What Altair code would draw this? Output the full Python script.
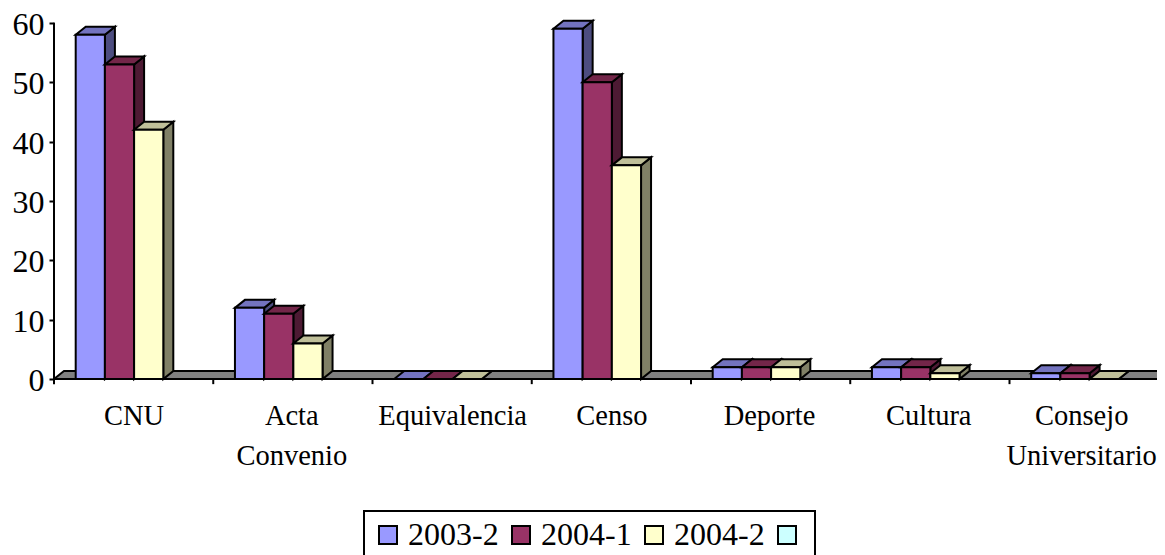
import json
import altair as alt
import pandas as pd

categories = ["CNU", ["Acta", "Convenio"], "Equivalencia", "Censo", "Deporte", "Cultura", ["Consejo", "Universitario"]]
label_positions = [0.5, 1.49, 2.5, 3.5, 4.49, 5.49, 6.45]
series_names = ["2003-2", "2004-1", "2004-2", "\u2009\u2009"]
values_2003_2 = [58, 12, 0, 59, 2, 2, 1]
values_2004_1 = [53, 11, 0, 50, 2, 2, 1]
values_2004_2 = [42, 6, 0, 36, 2, 1, 0]
front_colors = ["#9999FF", "#993366", "#FFFFCC", "#CCFFFF"]
top_colors = ["#7373BF", "#732649", "#BFBF99"]
side_colors = ["#4D4D80", "#4D1A33", "#808066"]
floor_color = "#808080"
y_ticks = [0, 10, 20, 30, 40, 50, 60]

FONT = "Liberation Serif"
PX_PER_CAT = 159.25
PLOT_W = 1103
PLOT_H = 377
Y_MIN, Y_MAX = -1.5, 62
PX_PER_UNIT = PLOT_H / (Y_MAX - Y_MIN)
X_END = PLOT_W / PX_PER_CAT
BAR_W = 29.2 / PX_PER_CAT
GAP = 21.7 / PX_PER_CAT
DX = 10 / PX_PER_CAT
DY = 8 / PX_PER_UNIT
TICK = 0.85

rows = []
poly = 0


def add(points, fill):
    global poly
    for px, py, py2 in points:
        rows.append({"poly": poly, "x": px, "y": py, "y2": py2, "fill": fill})
    poly += 1


# floor
add([(0, 0, 0), (DX, DY, 0), (7.2, DY, 0)], floor_color)

all_series = [values_2003_2, values_2004_1, values_2004_2]
for c in range(len(categories)):
    for s, vals in enumerate(all_series):
        v = vals[c]
        x0 = c + GAP + s * BAR_W
        x1 = x0 + BAR_W
        add([(x1, v, 0), (x1 + DX, v + DY, DY)], side_colors[s])
        add([(x0, v, v), (x0 + DX, v + DY, v), (x1, v + DY, v), (x1 + DX, v + DY, v + DY)], top_colors[s])
        add([(x0, v, 0), (x1, v, 0)], front_colors[s])

faces = pd.DataFrame(rows)

x_scale = alt.Scale(domain=[0, X_END], nice=False, zero=False)
y_scale = alt.Scale(domain=[Y_MIN, Y_MAX], nice=False, zero=False)

label_expr = "%s[floor(datum.value)]" % json.dumps(categories)

area = alt.Chart(faces).mark_area(
    clip=True, stroke="black", strokeWidth=2, strokeJoin="miter", opacity=1
).encode(
    x=alt.X(
        "x:Q",
        scale=x_scale,
        title=None,
        axis=alt.Axis(
            values=label_positions,
            labelExpr=label_expr,
            domain=False,
            ticks=False,
            grid=False,
            labelFont=FONT,
            labelFontSize=28.5,
            labelColor="black",
            labelPadding=13,
            labelLineHeight=40,
            labelBaseline="top",
            labelAlign="center",
            labelFlush=False,
            labelOverlap=False,
            labelBound=False,
        ),
    ),
    y=alt.Y(
        "y:Q",
        scale=y_scale,
        title=None,
        axis=alt.Axis(
            values=y_ticks,
            domain=False,
            grid=False,
            tickColor="black",
            tickWidth=2,
            tickSize=5,
            labelFont=FONT,
            labelFontSize=32,
            labelColor="black",
            labelPadding=5,
            labelOffset=1.5,
        ),
    ),
    y2="y2:Q",
    fill=alt.Fill("fill:N", scale=None),
    detail="poly:N",
)

rule_rows = [{"x": 0, "y": -TICK, "y2": 60}] + [
    {"x": i, "y": -TICK, "y2": 0} for i in range(1, len(categories))
]
rules = alt.Chart(pd.DataFrame(rule_rows)).mark_rule(color="black", strokeWidth=2).encode(
    x=alt.X("x:Q", scale=x_scale),
    y=alt.Y("y:Q", scale=y_scale),
    y2="y2:Q",
)

legend_layer = alt.Chart(pd.DataFrame({"series": series_names, "x": [0] * 4, "y": [0] * 4})).mark_rect(
    strokeWidth=0
).encode(
    x=alt.X("x:Q", scale=x_scale),
    x2="x:Q",
    y=alt.Y("y:Q", scale=y_scale),
    y2="y:Q",
    color=alt.Color(
        "series:N",
        scale=alt.Scale(domain=series_names, range=front_colors),
        sort=None,
        title=None,
        legend=alt.Legend(
            orient="none",
            legendX=310,
            legendY=500,
            direction="horizontal",
            columns=4,
            symbolType="square",
            symbolSize=324,
            symbolStrokeColor="black",
            symbolStrokeWidth=2,
            labelFont=FONT,
            labelFontSize=32,
            labelColor="black",
            labelOffset=4,
            columnPadding=6,
            padding=8,
            strokeColor="black",
        ),
    ),
)

chart = (
    alt.layer(area, rules, legend_layer)
    .properties(
        width=PLOT_W,
        height=PLOT_H,
        padding={"left": 46, "top": 3, "right": 0, "bottom": 167},
        autosize=alt.AutoSizeParams(type="none"),
        background="white",
    )
    .configure_view(stroke=None)
    .configure_legend(strokeWidth=2)
)

chart.save("out.html", embed_options={"renderer": "svg", "actions": False})
